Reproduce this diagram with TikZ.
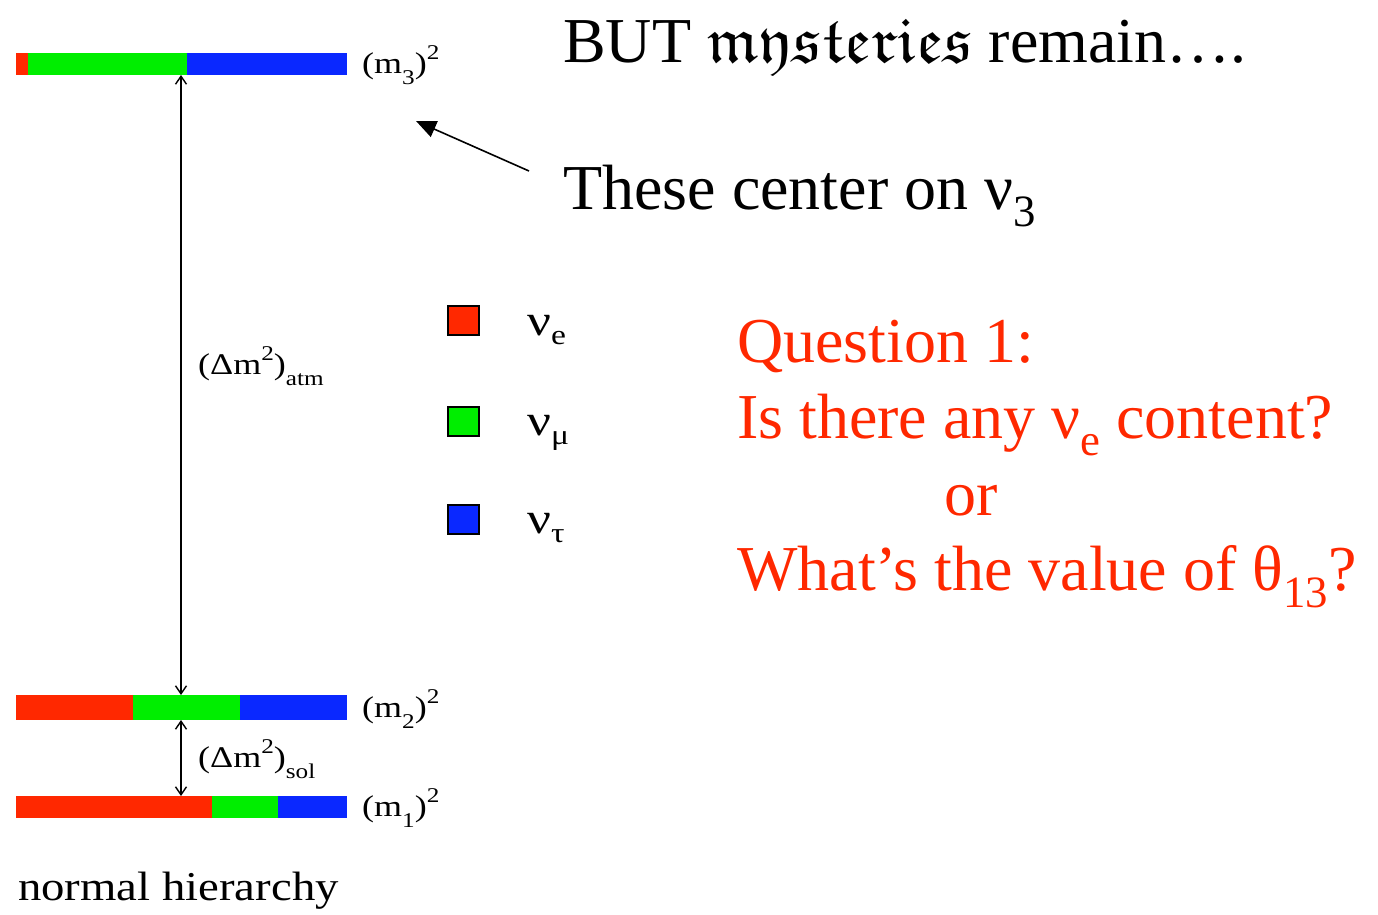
\documentclass[tikz,border=0pt]{standalone}
\usepackage{fontspec}
\usepackage{amsfonts}
\setmainfont{Liberation Serif}
\newfontfamily\figfont[FakeStretch=1.2]{Liberation Serif}
\newfontfamily\nhfont[FakeStretch=1.14]{Liberation Serif}
\usetikzlibrary{arrows.meta}
\definecolor{nured}{RGB}{255,40,0}
\definecolor{nugreen}{RGB}{0,238,0}
\definecolor{nublue}{RGB}{10,40,255}
\definecolor{qred}{RGB}{255,40,0}
\newcommand\sbs[1]{\raisebox{-0.28em}{\scalebox{0.7}{#1}}}
\newcommand\lsb[1]{\raisebox{-0.38em}{\scalebox{0.7}{#1}}}
\newcommand\sps[1]{\raisebox{0.45em}{\scalebox{0.7}{#1}}}
\newcommand\legnu[1]{{\fontsize{44}{50}\selectfont ν}\raisebox{-9pt}{\fontsize{28}{30}\selectfont #1}}
\begin{document}
\begin{tikzpicture}[x=1pt,y=-1pt,
  big/.style={anchor=base west,inner sep=0pt,font=\fontsize{64}{77}\selectfont},
  qtext/.style={big,text=qred},
  lbl/.style={anchor=base west,inner sep=0pt,font=\figfont\fontsize{30}{36}\selectfont},
  leglbl/.style={anchor=base west,inner sep=0pt,font=\figfont},
  legbox/.style={draw=black,line width=2pt,minimum width=31pt,minimum height=29pt,inner sep=0pt},
  dmarrow/.style={draw,line width=1.4pt,{Straight Barb[length=8pt,width=11pt]}-{Straight Barb[length=8pt,width=11pt]}},
  ptr/.style={draw,line width=1.6pt,-{Triangle[length=20pt,width=17pt]}}]
\useasboundingbox (0,0) rectangle (1378,914);
% bars
\fill[nured]   (16,53) rectangle (28,75);
\fill[nugreen] (28,53) rectangle (187,75);
\fill[nublue]  (187,53) rectangle (347,75);
\fill[nured]   (16,695) rectangle (133,720);
\fill[nugreen] (133,695) rectangle (240,720);
\fill[nublue]  (240,695) rectangle (347,720);
\fill[nured]   (16,796) rectangle (212,818);
\fill[nugreen] (212,796) rectangle (278,818);
\fill[nublue]  (278,796) rectangle (347,818);
\coordinate (b3) at (181,75);
\coordinate (t2) at (181,695);
\coordinate (b2) at (181,720);
\coordinate (t1) at (181,796);
\draw[dmarrow] (b3) -- (t2);
\draw[dmarrow] (b2) -- (t1);
% level labels
\node[lbl] (m3) at (362,73) {(m\lsb{3})\sps{2}};
\node[lbl] (m2) at (362,717) {(m\lsb{2})\sps{2}};
\node[lbl] (m1) at (362,816) {(m\lsb{1})\sps{2}};
\node[lbl] (atm) at (198,374) {(Δm\sps{2})\lsb{atm}};
\node[lbl] (sol) at (198,767) {(Δm\sps{2})\lsb{sol}};
% legend
\node[legbox,fill=nured]   (le) at (463,320) {};
\node[legbox,fill=nugreen] (lm) at (463,421) {};
\node[legbox,fill=nublue]  (lt) at (463,519) {};
\node[leglbl] (ne) at (527,335) {\legnu{e}};
\node[leglbl] (nm) at (527,435) {\legnu{μ}};
\node[leglbl] (nt) at (527,533) {\legnu{τ}};
\node[anchor=base west,inner sep=0pt,font=\nhfont\fontsize{41}{49}\selectfont] (nh) at (18,900) {normal hierarchy};
% slide text
\node[big] (but) at (563,62) {BUT \scalebox{1.05}[1]{$\mathfrak{mysteries}$} remain….};
\node[big] (these) at (563,209) {These center on ν\sbs{3}};
\coordinate (ptail) at (529,171);
\coordinate (phead) at (416,121);
\draw[ptr] (ptail) -- (phead);
\node[qtext] (q1) at (737,362) {Question 1:};
\node[qtext] (q2) at (737,438) {Is there any ν\sbs{e} content?};
\node[qtext] (q3) at (944,515) {or};
\node[qtext] (q4) at (737,590) {What’s the value of θ\sbs{13}?};
\end{tikzpicture}
\end{document}
